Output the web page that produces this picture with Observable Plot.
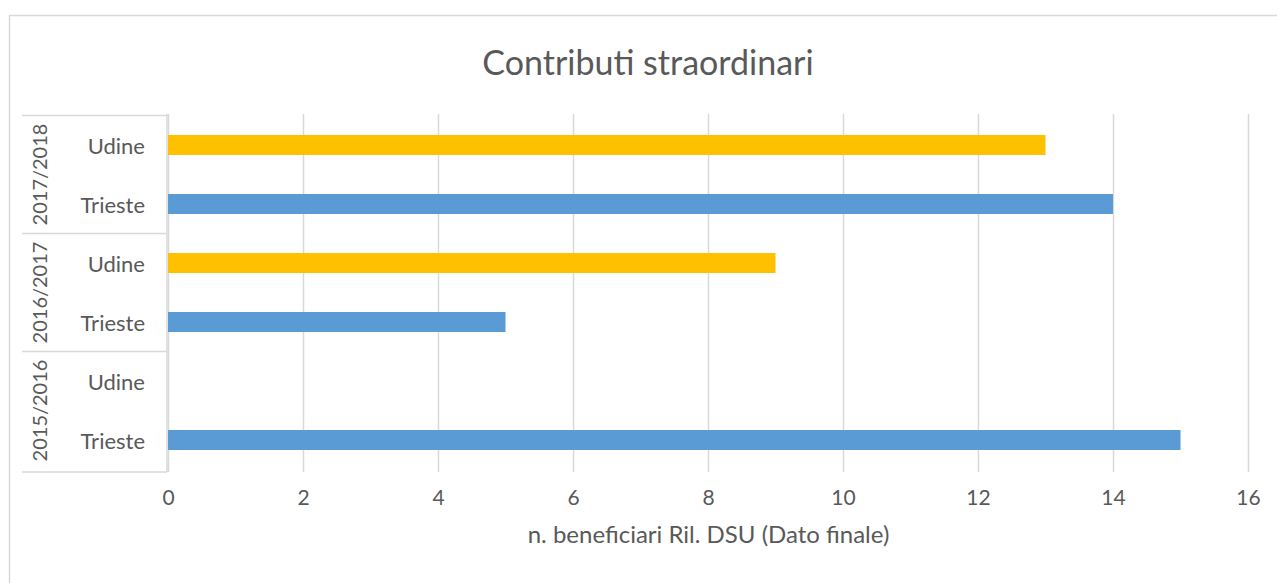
<!DOCTYPE html>
<html><head><meta charset="utf-8">
<script src="https://cdn.jsdelivr.net/npm/d3@7"></script>
<script src="https://cdn.jsdelivr.net/npm/@observablehq/plot@0.6"></script>
<style>body{margin:0;background:#fff;} svg{display:block}</style>
</head><body><div id="chart"></div>
<script>
const years = ["2015/2016", "2016/2017", "2017/2018"];
const cities = ["Trieste", "Udine"];
const trieste = [15, 5, 14];
const udine = [null, 9, 13];
const xTicks = [0, 2, 4, 6, 8, 10, 12, 14, 16];
const title = "Contributi straordinari";
const xLabel = "n. beneficiari Ril. DSU (Dato finale)";
const palette = ["#5B9BD5", "#FFC000"];

const rows = [];
years.forEach((yr, i) => {
  rows.push({year: yr, city: "Trieste", value: trieste[i], key: yr + "|Trieste"});
  rows.push({year: yr, city: "Udine", value: udine[i], key: yr + "|Udine"});
});
const domain = rows.map(d => d.key).reverse();

const FONT = "Lato, 'Open Sans', sans-serif";
const GRAY = "#595959";
const LINE = "#d9d9d9";

function decor(index, scales, values, dims) {
  const y = scales.y;
  const step = y(domain[1]) - y(domain[0]);
  const bw = typeof y.bandwidth === "function" ? y.bandwidth() : (y.bandwidth || 0);
  const off = (step - bw) / 2;
  const top = dims.marginTop, bottom = dims.height - dims.marginBottom;
  const axisX = dims.marginLeft - 1;
  const g = d3.create("svg:g").attr("font-family", FONT).attr("fill", GRAY);
  // outer chart border
  g.append("rect").attr("x", 9.5).attr("y", 15.5).attr("width", dims.width + 20).attr("height", dims.height + 20)
    .attr("fill", "none").attr("stroke", LINE).attr("stroke-width", 1.5);
  // title
  g.append("text").attr("x", 648).attr("y", 61).attr("text-anchor", "middle").attr("dominant-baseline", "central")
    .attr("font-size", 34).text(title);
  // vertical axis line
  g.append("line").attr("x1", axisX).attr("x2", axisX).attr("y1", top).attr("y2", bottom)
    .attr("stroke", LINE).attr("stroke-width", 1.5);
  // group separators and group labels
  years.forEach(yr => {
    const yt = y(yr + "|Udine") - off;
    g.append("line").attr("x1", 22).attr("x2", axisX).attr("y1", yt).attr("y2", yt)
      .attr("stroke", LINE).attr("stroke-width", 1.5);
    const yc = (y(yr + "|Udine") + y(yr + "|Trieste") + bw) / 2;
    g.append("text").attr("transform", `translate(39,${yc}) rotate(-90)`)
      .attr("text-anchor", "middle").attr("dominant-baseline", "central").attr("font-size", 20).text(yr);
  });
  g.append("line").attr("x1", 22).attr("x2", axisX).attr("y1", bottom).attr("y2", bottom)
    .attr("stroke", LINE).attr("stroke-width", 1.5);
  // category labels
  rows.forEach(d => {
    g.append("text").attr("x", 145).attr("y", y(d.key) + bw / 2).attr("text-anchor", "end")
      .attr("dominant-baseline", "central").attr("font-size", 22).text(d.city);
  });
  return g.node();
}

const chart = Plot.plot({
  width: 1277, height: 583,
  marginLeft: 168, marginRight: 29, marginTop: 114, marginBottom: 111,
  style: {fontFamily: FONT, background: "#fff", color: GRAY},
  x: {domain: [0, 16], axis: null},
  y: {domain, paddingInner: 0.656, paddingOuter: 0.328, axis: null},
  color: {domain: cities, range: palette},
  marks: [
    Plot.ruleX(xTicks, {x: d => d, stroke: LINE, strokeWidth: 1.5}),
    Plot.barX(rows.filter(d => d.value != null), {x: "value", y: "key", fill: "city"}),
    Plot.text(xTicks, {x: d => d, frameAnchor: "bottom", dy: 32, fontSize: 21, fill: GRAY, text: d => String(d)}),
    Plot.text([xLabel], {frameAnchor: "bottom", dy: 70, fontSize: 24, fill: GRAY, text: d => d}),
    decor
  ]
});
document.getElementById("chart").appendChild(chart);
</script>
</body></html>
